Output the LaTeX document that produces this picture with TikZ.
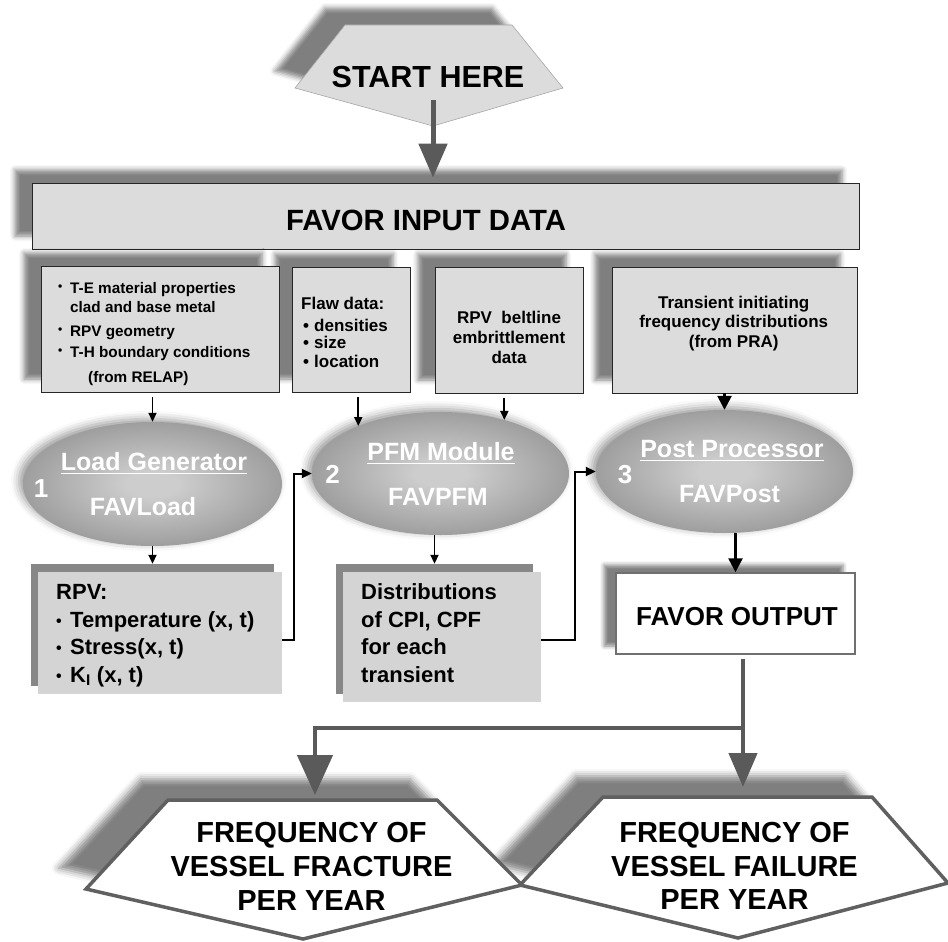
\documentclass[tikz,border=0pt]{standalone}
\usepackage{fontspec}
\setmainfont{Liberation Sans}
\usetikzlibrary{arrows.meta,shadows.blur,calc,shapes.geometric}

\definecolor{boxgray}{HTML}{DCDCDC}
\definecolor{lowgray}{HTML}{D4D4D4}
\definecolor{shadegray}{HTML}{878787}
\definecolor{arrgray}{HTML}{5A5A5A}
\definecolor{edgegray}{HTML}{606060}
\definecolor{ellin}{HTML}{CDCDCD}
\definecolor{ellmid}{HTML}{8E8E8E}
\definecolor{ellout}{HTML}{5A5A5A}

\pgfdeclareradialshading{ellshade}{\pgfpoint{0bp}{0bp}}{color(0bp)=(ellin); color(5bp)=(ellin); color(32bp)=(ellmid); color(50bp)=(ellout)}

\newcommand\fsz[1]{\fontsize{#1}{#1}\selectfont\bfseries}
\newcommand\sbul{\makebox[12pt][l]{\raisebox{3pt}{\fontsize{12}{12}\selectfont\textbullet}}}
\newcommand\mbul{\makebox[11pt][l]{\textbullet}}
\newcommand\lbul{\makebox[14pt][l]{\raisebox{1pt}{\fontsize{16}{16}\selectfont\textbullet}}}
\newcommand\uline[1]{\underline{\smash{#1}}}

\begin{document}
\begin{tikzpicture}[x=1pt,y=-1pt,
  lbl/.style={inner sep=0pt, anchor=base west},
  clbl/.style={inner sep=0pt, anchor=base},
  wlbl/.style={inner sep=0pt, anchor=base, text=white, font=\fsz{25}},
  inbox/.style={rectangle, draw=black!85, line width=0.8pt, fill=boxgray, inner sep=0pt,
    blur shadow={shadow xshift=-17pt, shadow yshift=13pt, shadow blur radius=5pt, shadow opacity=50}},
  lowbox/.style={rectangle, fill=lowgray, inner sep=0pt},
  lowsh/.style={rectangle, fill=shadegray, inner sep=0pt},
  outbox/.style={rectangle, draw=edgegray!90, line width=1.5pt, fill=white, inner sep=0pt,
    blur shadow={shadow xshift=-12pt, shadow yshift=8pt, shadow blur radius=4pt, shadow opacity=50}},
  ell/.style={ellipse, inner sep=0pt, shade, shading=ellshade,
    blur shadow={shadow xshift=-4pt, shadow yshift=3pt, shadow blur radius=8pt, shadow opacity=40}},
  startpent/.style={fill=boxgray, draw=gray!70, line width=0.6pt,
    blur shadow={shadow xshift=-20pt, shadow yshift=17pt, shadow blur radius=5pt, shadow opacity=50}},
  endpent/.style={fill=white, draw=edgegray, line width=3.5pt, line join=miter,
    blur shadow={shadow xshift=-27pt, shadow yshift=21pt, shadow blur radius=7pt, shadow opacity=50}},
  bigarr/.style={draw=arrgray, line width=5pt, -{Triangle[length=34pt,width=28pt]}},
  bigarrL/.style={draw=arrgray, line width=4.5pt, -{Triangle[length=40pt,width=35pt]}},
  gline/.style={draw=arrgray, line width=4.5pt},
  thinarr/.style={draw=black, line width=1.8pt, -{Triangle[length=9pt,width=8pt]}},
  medarr/.style={draw=black, line width=2.6pt, -{Triangle[length=14pt,width=14pt]}},
  elbow/.style={draw=black, line width=2pt, -{Triangle[length=10pt,width=9pt]}}
]
\useasboundingbox (0,0) rectangle (948,942);

% ---------- START ----------
\path[startpent] (345,25) -- (512,25) -- (563,88) -- (433,126) -- (295,88) -- cycle;
\node[clbl, font=\fsz{30.5}] (start) at (428,88) {START HERE};
\coordinate (startarr) at (433,100);

% ---------- FAVOR INPUT DATA ----------
\node[inbox, minimum width=827pt, minimum height=66pt] (input) at (445.5,216) {};
\node[clbl, font=\fsz{29.3}] (inputlbl) at (426,230) {FAVOR INPUT DATA};
\draw[bigarr, shorten >=5pt] (startarr) -- (startarr |- input.north);

% ---------- input boxes (right to left) ----------
\node[inbox, minimum width=245pt, minimum height=126pt] (b4) at (734.5,330) {};
\node[inbox, minimum width=148pt, minimum height=126pt] (b3) at (509,330) {};
\node[inbox, minimum width=118pt, minimum height=125pt] (b2) at (351,329.5) {};
\node[inbox, minimum width=238pt, minimum height=126pt] (b1) at (160,329) {};

\node[lbl, font=\fsz{15.3}] (b1t1) at (58,293) {\sbul T-E material properties};
\node[lbl, font=\fsz{15.3}] (b1t2) at (70,312) {clad and base metal};
\node[lbl, font=\fsz{15.3}] (b1t3) at (58,336) {\sbul RPV geometry};
\node[lbl, font=\fsz{15.3}] (b1t4) at (58,357) {\sbul T-H boundary conditions};
\node[lbl, font=\fsz{15.3}] (b1t5) at (88,382) {(from RELAP)};

\node[lbl, font=\fsz{17}] (b2t1) at (301,309) {Flaw data:};
\node[lbl, font=\fsz{17}] (b2t2) at (303,331) {\mbul densities};
\node[lbl, font=\fsz{17}] (b2t3) at (303,348) {\mbul size};
\node[lbl, font=\fsz{17}] (b2t4) at (303,367) {\mbul location};

\node[clbl, font=\fsz{17}] (b3t1) at (509,323) {RPV\ \ beltline};
\node[clbl, font=\fsz{17}] (b3t2) at (509,343) {embrittlement};
\node[clbl, font=\fsz{17}] (b3t3) at (509,363) {data};

\node[clbl, font=\fsz{17}] (b4t1) at (733.7,308) {Transient initiating};
\node[clbl, font=\fsz{17}] (b4t2) at (733.7,327) {frequency distributions};
\node[clbl, font=\fsz{17}] (b4t3) at (733.7,347) {(from PRA)};

% ---------- ellipses ----------
\node[ell, minimum width=259pt, minimum height=124pt] (e1) at (152.5,484) {};
\node[ell, minimum width=257pt, minimum height=123pt] (e2) at (440.5,473.5) {};
\node[ell, minimum width=257pt, minimum height=123pt] (e3) at (724.5,471.5) {};

\node[wlbl] (e1t) at (154,470) {Load Generator};
\node[wlbl] (e1p) at (143,515) {FAVLoad};
\node[wlbl, font=\fsz{26}] (e1n) at (41,497) {1};
\node[wlbl] (e2t) at (441,460) {PFM Module};
\node[wlbl] (e2p) at (438,505) {FAVPFM};
\node[wlbl, font=\fsz{26}] (e2n) at (332.5,483) {2};
\node[wlbl] (e3t) at (732,457) {Post Processor};
\node[wlbl] (e3p) at (729.5,502) {FAVPost};
\node[wlbl, font=\fsz{26}] (e3n) at (625,483) {3};
\foreach \t in {e1t,e2t,e3t}
  \draw[white, line width=1.6pt] ([yshift=-3.5pt]\t.base west) -- ([yshift=-3.5pt]\t.base east);

% ---------- lower boxes ----------
\node[lowsh, minimum width=243pt, minimum height=122pt] (rpvsh) at (152.5,625) {};
\node[lowbox, minimum width=244pt, minimum height=122pt] (rpv) at (160,633) {};
\node[lowsh, minimum width=197pt, minimum height=130pt] (distsh) at (434.5,629) {};
\node[lowbox, minimum width=198pt, minimum height=130pt] (dist) at (442,637) {};

\node[lbl, font=\fsz{22}] (r1) at (56,599) {RPV:};
\node[lbl, font=\fsz{22}] (r2) at (56,627) {\lbul Temperature (x, t)};
\node[lbl, font=\fsz{22}] (r3) at (56,654) {\lbul Stress(x, t)};
\node[lbl, font=\fsz{22}] (r4) at (56,682) {\lbul K\textsubscript{I} (x, t)};

\node[lbl, font=\fsz{22}] (d1) at (361,599) {Distributions};
\node[lbl, font=\fsz{22}] (d2) at (361,627) {of CPI, CPF};
\node[lbl, font=\fsz{22}] (d3) at (361,654) {for each};
\node[lbl, font=\fsz{22}] (d4) at (361,682) {transient};

\node[outbox, minimum width=239pt, minimum height=81pt] (out) at (735.5,613.5) {};
\node[clbl, font=\fsz{26}] (outlbl) at (737,625) {FAVOR OUTPUT};

% ---------- connectors (upper part) ----------
\draw[thinarr, shorten <=5pt] (b1.south -| e1.north) -- (e1.north);
\draw[thinarr, shorten <=5pt] (e2.150 |- b2.south) -- (e2.150);
\draw[thinarr, shorten <=5pt] (e2.40 |- b3.south) -- (e2.40);
\draw[medarr] (b4.south -| e3.north) -- (e3.north);
\draw[thinarr] (e1.south) -- (e1.south |- rpvsh.north);
\coordinate (e2b) at ($(e2.south)+(-6,0)$);
\draw[thinarr] (e2b) -- (e2b |- distsh.north);
\draw[elbow] ($(rpv.east)+(0,7)$) -- ++(12,0) |- (e2.west);
\draw[elbow] ($(dist.east)+(0,3)$) -- ++(34,0) |- (e3.west);
\draw[medarr] (e3.south -| out.north) -- (out.north);

% ---------- result pentagons ----------
\path[endpent] (603,797) coordinate (faTL) -- (872,797) -- (948,883) -- (738,938) -- (520,885) -- cycle;
\path[endpent] (168,800) coordinate (frTL) -- (437,800) -- (522,885) -- (303,939) -- (86,889) -- cycle;

\node[clbl, font=\fsz{29}] (fr1) at (311.5,842) {FREQUENCY OF};
\node[clbl, font=\fsz{29}] (fr2) at (311.5,876) {VESSEL FRACTURE};
\node[clbl, font=\fsz{29}] (fr3) at (311.5,910) {PER YEAR};
\node[clbl, font=\fsz{29}] (fa1) at (734.5,842) {FREQUENCY OF};
\node[clbl, font=\fsz{29}] (fa2) at (734.5,876) {VESSEL FAILURE};
\node[clbl, font=\fsz{29}] (fa3) at (734.5,909) {PER YEAR};

% ---------- output connectors ----------
\coordinate (o1) at ($(out.south)+(7.5,4)$);
\coordinate (split) at ($(o1)+(0,69)$);
\coordinate (fractop) at (315,800);
\draw[bigarr, line width=4.5pt, shorten >=10pt] (o1) -- (o1 |- faTL);
\draw[bigarrL, shorten >=5pt] ($(split)+(2,0)$) -| (fractop);
\end{tikzpicture}
\end{document}
